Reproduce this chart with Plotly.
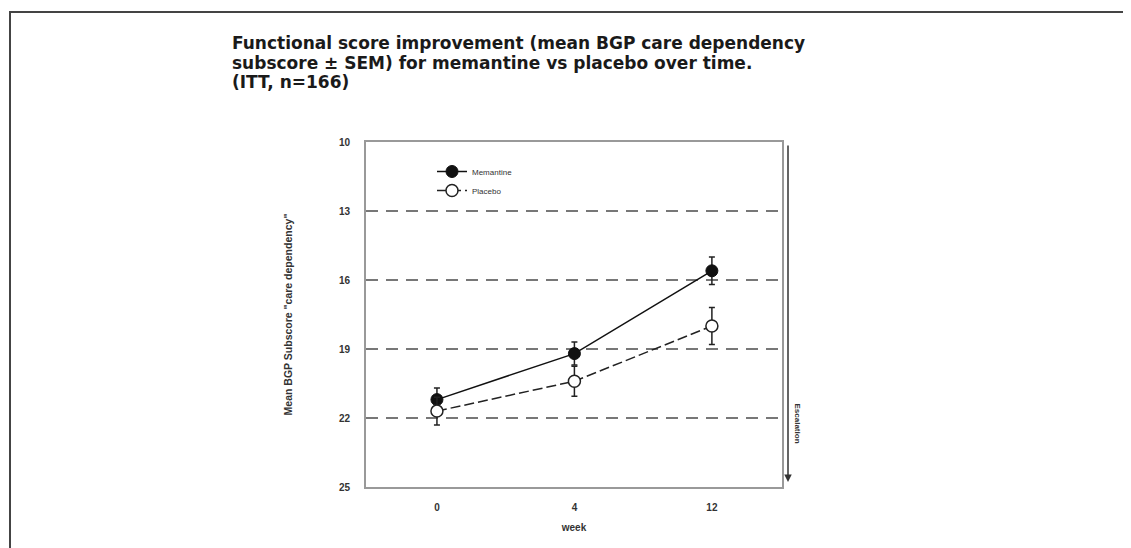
import plotly.graph_objects as go

weeks = ["0", "4", "12"]
memantine = [21.2, 19.2, 15.6]
memantine_sem = [0.5, 0.5, 0.6]
placebo = [21.7, 20.4, 18.0]
placebo_sem = [0.6, 0.65, 0.8]
y_ticks = [10, 13, 16, 19, 22, 25]

title_lines = ["Functional score improvement (mean BGP care dependency",
               "subscore \u00b1 SEM) for memantine vs placebo over time.",
               "(ITT, n=166)"]

fig = go.Figure()
fig.add_trace(go.Scatter(
    x=weeks, y=memantine, name="Memantine", mode="lines+markers",
    line=dict(color="#111", width=1.5),
    marker=dict(symbol="circle", size=12, color="#111", line=dict(color="#111", width=1)),
    error_y=dict(type="data", array=memantine_sem, color="#222", thickness=1.5, width=3),
))
fig.add_trace(go.Scatter(
    x=weeks, y=placebo, name="Placebo", mode="lines+markers",
    line=dict(color="#222", width=1.5, dash="10px,4px"),
    marker=dict(symbol="circle", size=12, color="white", line=dict(color="#222", width=1.5)),
    error_y=dict(type="data", array=placebo_sem, color="#222", thickness=1.5, width=3),
))

W, H = 1131, 548
OFF = 8  # page body margin
L, R, T, B = 366, 782, 142, 487  # plot frame in screenshot pixels
pw, ph = R - L, B - T

def px(x):
    return (x - L) / pw

def py(y):
    return (B - y) / ph

FAM = "Liberation Sans, Arial, sans-serif"
axis_font = dict(family=FAM, size=10, color="#333", weight="bold")

title_anns = [
    dict(text=line, xref="paper", yref="paper", x=px(230), y=py(yc),
         xanchor="left", yanchor="middle", align="left", showarrow=False,
         font=dict(family="DejaVu Sans, Verdana, sans-serif", size=17, color="#1a1a1a", weight="bold"))
    for line, yc in zip(title_lines, [43, 63, 82])
]

fig.update_layout(
    width=W, height=H,
    margin=dict(l=L - OFF, r=W - (R - OFF), t=T - OFF, b=H - (B - OFF)),
    paper_bgcolor="white", plot_bgcolor="white",
    showlegend=True,
    legend=dict(x=px(432), y=py(157), xanchor="left", yanchor="top",
                font=dict(family=FAM, size=8, color="#333"),
                bgcolor="rgba(0,0,0,0)", itemwidth=30, tracegroupgap=0),
    xaxis=dict(type="category", range=[-0.516, 2.51], showgrid=False,
               showline=True, mirror=True, linecolor="#999", linewidth=2,
               ticks="", tickfont=axis_font, zeroline=False, ticklabelstandoff=10,
               title=dict(text="week", font=axis_font, standoff=12)),
    yaxis=dict(range=[25, 10], tickvals=y_ticks, showgrid=True,
               gridcolor="#777", gridwidth=1.5, griddash="12px,8px",
               showline=True, mirror=True, linecolor="#999", linewidth=2,
               ticks="", tickfont=axis_font, zeroline=False, ticklabelstandoff=12,
               title=dict(text="Mean BGP Subscore \"care dependency\"",
                          font=dict(family=FAM, size=10.5, color="#333", weight="bold"), standoff=44)),
    shapes=[
        dict(type="rect", xref="paper", yref="paper",
             x0=px(10), x1=px(1145), y0=py(12), y1=py(570),
             line=dict(color="#444", width=2), fillcolor="rgba(0,0,0,0)", layer="below"),
    ],
    annotations=title_anns + [
        dict(text="p < 0.05", xref="x", yref="y", x="12", y=16.7, showarrow=False,
             font=dict(family=FAM, size=8, color="#333", weight="bold")),
        dict(text="", xref="paper", yref="paper", x=px(788), y=py(482),
             ax=0, ay=-338, axref="pixel", ayref="pixel", showarrow=True,
             arrowhead=2, arrowsize=1, arrowwidth=1.5, arrowcolor="#333"),
        dict(text="Escalation", xref="paper", yref="paper", x=px(804), y=py(445),
             textangle=90, showarrow=False,
             font=dict(family=FAM, size=8, color="#333", weight="bold")),
    ],
)

fig.write_html("out.html")
